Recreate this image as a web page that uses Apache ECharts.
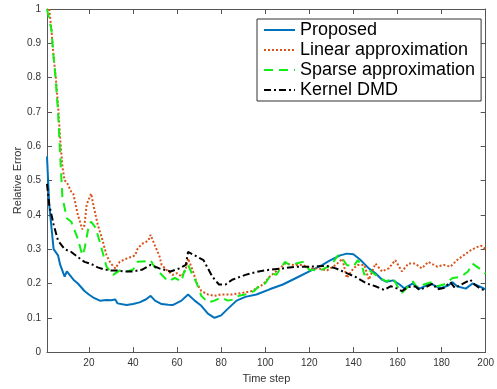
<!DOCTYPE html>
<html>
<head>
<meta charset="utf-8">
<script src="https://cdn.jsdelivr.net/npm/echarts@6/dist/echarts.min.js"></script>
<style>
    html, body { margin: 0; padding: 0; background: #fff; }
    #mapBox { width: 497px; height: 389px; }
</style>
</head>
<body>
<div id="mapBox"></div>
<script>
// [time step, relative error]
let proposed = [[1,0.57],[2,0.43],[4,0.30],[6,0.282],[7,0.254],[9,0.22],[10,0.235],[13,0.211],[15,0.20],[18,0.178],[20,0.168],[22,0.159],[25,0.15],[28,0.152],[30,0.151],[32,0.153],[33,0.142],[37,0.137],[40,0.14],[43,0.145],[46,0.154],[48,0.164],[50,0.15],[53,0.14],[56,0.138],[58,0.137],[62,0.15],[65,0.168],[68,0.15],[71,0.135],[74,0.112],[77,0.10],[80,0.107],[83,0.126],[87,0.15],[91,0.161],[96,0.168],[102,0.183],[108,0.197],[114,0.216],[120,0.235],[126,0.254],[129,0.266],[134,0.282],[137,0.287],[140,0.285],[143,0.27],[147,0.244],[150,0.23],[153,0.211],[155,0.205],[158,0.209],[161,0.197],[163,0.186],[167,0.20],[170,0.185],[173,0.194],[175,0.20],[178,0.19],[180,0.187],[183,0.194],[185,0.204],[187,0.192],[191,0.185],[194,0.20],[197,0.192],[200,0.183]]
let linear = [[2,1.0],[3,0.94],[4,0.86],[5,0.80],[6,0.72],[7,0.62],[8,0.54],[9,0.50],[10,0.495],[12,0.467],[13,0.46],[15,0.40],[17,0.358],[18,0.37],[19,0.43],[21,0.462],[22,0.43],[24,0.372],[26,0.33],[28,0.282],[30,0.258],[32,0.244],[34,0.263],[36,0.27],[39,0.277],[41,0.282],[42,0.30],[44,0.315],[47,0.325],[48,0.342],[50,0.31],[52,0.28],[53,0.254],[56,0.235],[58,0.225],[60,0.23],[62,0.22],[64,0.244],[65,0.273],[67,0.24],[69,0.20],[71,0.178],[74,0.168],[77,0.164],[80,0.168],[85,0.168],[90,0.173],[94,0.178],[99,0.197],[102,0.22],[106,0.241],[109,0.258],[113,0.254],[117,0.254],[121,0.244],[124,0.244],[128,0.238],[132,0.254],[135,0.272],[137,0.216],[140,0.244],[142,0.254],[145,0.254],[147,0.211],[150,0.258],[153,0.235],[156,0.244],[159,0.268],[162,0.235],[165,0.258],[168,0.258],[171,0.244],[174,0.263],[178,0.249],[181,0.254],[184,0.249],[187,0.268],[190,0.282],[193,0.296],[196,0.306],[198,0.31],[200,0.30]]
let sparse = [[1,1.0],[3,0.94],[4,0.86],[5,0.79],[6,0.70],[7,0.57],[8,0.45],[10,0.39],[12,0.38],[13,0.363],[15,0.33],[17,0.282],[18,0.30],[20,0.37],[21,0.38],[23,0.363],[25,0.32],[28,0.249],[31,0.225],[34,0.238],[37,0.235],[40,0.24],[42,0.263],[46,0.265],[48,0.268],[49,0.256],[52,0.232],[56,0.206],[59,0.216],[62,0.206],[63,0.23],[65,0.254],[67,0.225],[69,0.20],[71,0.164],[74,0.145],[77,0.15],[80,0.159],[83,0.15],[86,0.154],[88,0.164],[91,0.168],[95,0.178],[97,0.192],[100,0.20],[103,0.23],[105,0.225],[108,0.254],[109,0.263],[111,0.254],[114,0.258],[117,0.263],[120,0.24],[123,0.238],[126,0.241],[130,0.254],[133,0.282],[135,0.273],[137,0.254],[140,0.249],[142,0.268],[144,0.249],[145,0.225],[147,0.24],[149,0.23],[152,0.216],[155,0.206],[158,0.216],[160,0.192],[162,0.173],[165,0.192],[167,0.206],[169,0.187],[172,0.197],[175,0.203],[178,0.192],[181,0.197],[185,0.216],[189,0.22],[192,0.235],[194,0.258],[198,0.24],[200,0.228]]
let kernel = [[1,0.49],[2,0.43],[4,0.372],[6,0.325],[9,0.30],[12,0.292],[15,0.277],[18,0.263],[21,0.257],[24,0.247],[27,0.241],[30,0.238],[33,0.238],[36,0.235],[40,0.235],[44,0.24],[48,0.254],[52,0.244],[57,0.235],[61,0.244],[64,0.254],[65,0.292],[68,0.282],[72,0.268],[76,0.22],[79,0.197],[82,0.197],[85,0.211],[91,0.225],[97,0.235],[102,0.24],[108,0.244],[114,0.249],[120,0.249],[124,0.25],[128,0.251],[132,0.244],[137,0.23],[141,0.219],[146,0.20],[150,0.192],[154,0.181],[157,0.192],[160,0.185],[162,0.178],[165,0.19],[168,0.192],[170,0.181],[173,0.19],[176,0.20],[178,0.183],[181,0.187],[184,0.204],[186,0.187],[189,0.197],[193,0.211],[195,0.197],[198,0.183],[200,0.181]]

let seriesNames = ['Proposed', 'Linear approximation', 'Sparse approximation', 'Kernel DMD']
let xTicks = [20, 40, 60, 80, 100, 120, 140, 160, 180, 200]

let font = 'Liberation Sans, Arial, Helvetica, sans-serif'
let axisColor = '#555'

let myChart = echarts.init(document.getElementById('mapBox'), null, { renderer: 'canvas' })

function xAx(pos, showLabel) {
    return {
        type: 'value',
        position: pos,
        min: 1,
        max: 200,
        splitLine: { show: false },
        axisLine: { show: true, onZero: false, lineStyle: { color: axisColor, width: 1 } },
        axisTick: { show: true, inside: true, length: 5, customValues: xTicks, lineStyle: { color: axisColor } },
        axisLabel: { show: showLabel, customValues: xTicks, color: '#333', fontSize: 10, margin: 6, fontFamily: font },
        name: showLabel ? 'Time step' : '',
        nameLocation: 'middle',
        nameGap: 16,
        nameTextStyle: { color: '#333', fontSize: 11, fontFamily: font }
    }
}

function yAx(pos, showLabel) {
    return {
        type: 'value',
        position: pos,
        min: 0,
        max: 1,
        interval: 0.1,
        splitLine: { show: false },
        axisLine: { show: true, onZero: false, lineStyle: { color: axisColor, width: 1 } },
        axisTick: { show: true, inside: true, length: 5, lineStyle: { color: axisColor } },
        axisLabel: { show: showLabel, color: '#333', fontSize: 10, margin: 6, fontFamily: font },
        name: showLabel ? 'Relative Error' : '',
        nameLocation: 'middle',
        nameGap: 24,
        nameMoveOverlap: false,
        nameTextStyle: { color: '#333', fontSize: 11, fontFamily: font }
    }
}

function lineSeries(name, data, color, type, width) {
    return {
        name: name,
        type: 'line',
        data: data,
        symbol: 'none',
        showSymbol: false,
        clip: true,
        xAxisIndex: 0,
        yAxisIndex: 0,
        lineStyle: { color: color, width: width, type: type, cap: 'butt' },
        itemStyle: { color: color }
    }
}

myChart.setOption({
    animation: false,
    backgroundColor: '#fff',
    grid: { left: 47, right: 5, top: 9, bottom: 28, containLabel: false },
    legend: {
        data: seriesNames,
        orient: 'vertical',
        left: 257,
        top: 19,
        backgroundColor: '#fff',
        borderColor: '#333',
        borderWidth: 1,
        borderRadius: 0,
        padding: [1, 6, 1, 6],
        itemWidth: 31,
        itemHeight: 14,
        itemGap: 0,
        itemStyle: { opacity: 0 },
        textStyle: { color: '#000', fontSize: 18, lineHeight: 20, fontFamily: font }
    },
    xAxis: [xAx('bottom', true), xAx('top', false)],
    yAxis: [yAx('left', true), yAx('right', false)],
    series: [
        lineSeries(seriesNames[0], proposed, '#0072BD', 'solid', 2),
        lineSeries(seriesNames[1], linear, '#D95319', [2, 2], 2),
        lineSeries(seriesNames[2], sparse, '#11EE11', [9, 6], 2),
        lineSeries(seriesNames[3], kernel, '#000', [7, 3, 2, 3], 2)
    ]
})
</script>
</body>
</html>
